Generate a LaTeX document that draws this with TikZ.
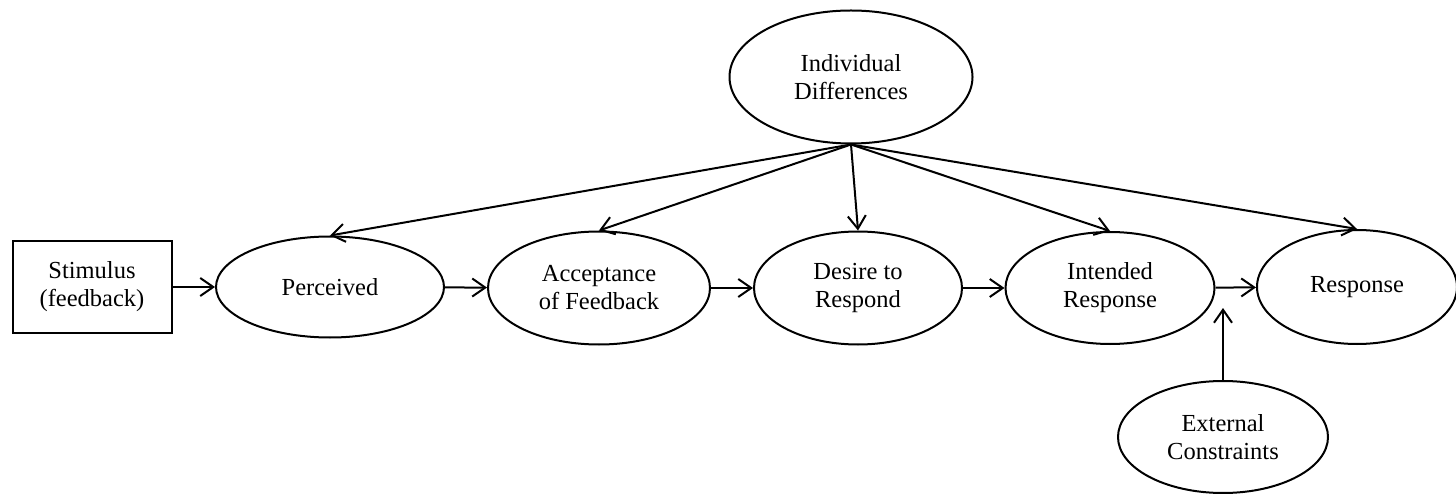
\documentclass[tikz,border=0pt]{standalone}
\usepackage{fontspec}
\setmainfont{Liberation Serif}
\usetikzlibrary{arrows.meta,shapes.geometric}

\begin{document}
\begin{tikzpicture}[x=1pt, y=-1pt,
    stage/.style={draw=black, ellipse, line width=2pt, inner sep=0pt,
                  font=\fontsize{24.5}{28}\selectfont, align=center},
    stimbox/.style={draw=black, rectangle, line width=2pt, inner sep=0pt,
                    minimum width=159pt, minimum height=92pt,
                    font=\fontsize{24.5}{28}\selectfont, align=center},
    arr/.style={-{Straight Barb[length=13pt,width=18pt]}, line width=2pt}
]
  \useasboundingbox (0,0) rectangle (1456,494);
  % Input box
  \node[stimbox] (stim) at (92,287) {Stimulus\\(feedback)};
  % Main chain of stages
  \node[stage, minimum width=228pt, minimum height=101pt] (perc) at (330,287) {Perceived};
  \node[stage, minimum width=222pt, minimum height=113pt] (accept) at (599,288) {Acceptance\\of Feedback};
  \node[stage, minimum width=208pt, minimum height=113pt] (desire) at (858,288) {Desire to\\Respond};
  \node[stage, minimum width=209pt, minimum height=112pt] (intend) at (1110,288) {Intended\\Response};
  \node[stage, minimum width=200pt, minimum height=114pt] (resp) at (1357,287) {Response};
  % Moderators
  \node[stage, minimum width=243pt, minimum height=133pt] (indiv) at (851,77) {Individual\\Differences};
  \node[stage, minimum width=210pt, minimum height=112pt] (extern) at (1223,437) {External\\Constraints};
  \coordinate (joint) at (1223,308);
  % Chain arrows
  \draw[arr] (stim) -- (perc);
  \draw[arr] (perc) -- (accept);
  \draw[arr] (accept) -- (desire);
  \draw[arr] (desire) -- (intend);
  \draw[arr] (intend) -- (resp);
  % Moderator arrows
  \foreach \target in {perc,accept,desire,intend,resp}
    \draw[arr] (indiv.south) -- (\target.north);
  \draw[arr] (extern.north) -- (joint);
\end{tikzpicture}
\end{document}
